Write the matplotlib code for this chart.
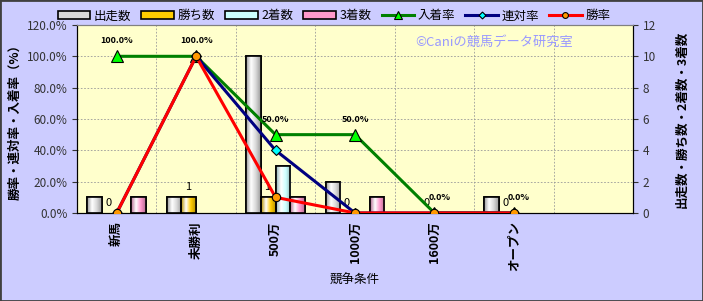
import numpy as np
import matplotlib.pyplot as plt
from matplotlib.colors import LinearSegmentedColormap, to_rgb
from matplotlib.patches import Patch

plt.rcParams['font.family'] = ['Noto Sans CJK JP', 'DejaVu Sans']

# data
categories = ['新馬', '未勝利', '500万', '1000万', '1600万', 'オープン', '']
runs = [1, 1, 10, 2, 0, 1, 0]
wins = [0, 1, 1, 0, 0, 0, 0]
seconds = [0, 0, 3, 0, 0, 0, 0]
thirds = [1, 0, 1, 1, 0, 0, 0]
win_labels = ['0', '1', '1', '0', '0', '0']
place_rate = [100.0, 100.0, 50.0, 50.0, 0.0, 0.0]
rentai_rate = [0.0, 100.0, 40.0, 0.0, 0.0, 0.0]
win_rate = [0.0, 100.0, 10.0, 0.0, 0.0, 0.0]

bar_series = [('出走数', runs, '#d8d8d8'), ('勝ち数', wins, '#ffcc00'),
              ('2着数', seconds, '#ccffff'), ('3着数', thirds, '#ff99cc')]

fig = plt.figure(figsize=(7.03, 3.01), dpi=100, facecolor='#ccccff')
fig.patches.append(plt.Rectangle((0, 0), 1, 1, transform=fig.transFigure,
                                 fill=False, edgecolor='#404040', lw=2))
ax = fig.add_axes([0.1095, 0.2924, 0.7909, 0.6246])
ax.set_facecolor('#ffffcc')
ax2 = ax.twinx()

x = np.arange(len(categories))
w = 0.185
handles = []
for i, (name, vals, col) in enumerate(bar_series):
    offs = (i - 1.5) * w
    vals = np.array(vals)
    pos = vals > 0
    bars = ax.bar((x + offs)[pos], vals[pos], w, color=col, edgecolor='black',
                  lw=1.2, zorder=3)
    handles.append(Patch(facecolor=col, edgecolor='black', lw=1.2, label=name))
    # simple horizontal gradient inside each bar, outline redrawn on top
    c = np.array(to_rgb(col))
    dark = c * 0.72
    cmap = LinearSegmentedColormap.from_list('g', [dark, (1, 1, 1), c, dark])
    grad = np.linspace(0, 1, 32).reshape(1, -1)
    for b in bars:
        im = ax.imshow(grad, cmap=cmap, aspect='auto', zorder=3.5,
                       extent=(b.get_x(), b.get_x() + b.get_width(), 0, b.get_height()))
        im.set_clip_path(b)
    ax.bar((x + offs)[pos], vals[pos], w, fill=False, edgecolor='black', lw=1.2, zorder=4)

# win count labels
for i, lab in enumerate(win_labels):
    ax.text(x[i] - 0.55 * w, wins[i] + 0.35, lab, ha='center', va='bottom',
            fontsize=8, zorder=6)

ax.set_xlim(-0.5, 6.5)
ax.set_ylim(0, 12)
ax.set_yticks(range(0, 13, 2))
ax.yaxis.tick_right()
ax.yaxis.set_label_position('right')
ax.set_ylabel('出走数・勝ち数・2着数・3着数', fontsize=9, fontweight='bold',
              rotation=90, labelpad=14)
ax.set_xticks(x)
ax.set_xticklabels(categories, rotation=90, fontsize=9, fontweight='bold', va='top')
ax.set_xticks(x[:-1] + 0.5, minor=True)
ax.tick_params(axis='x', which='both', length=0, pad=6)
ax.grid(True, which='minor', axis='x', color='#999999', ls=(0, (2, 2)), lw=0.6)
ax.grid(True, which='major', axis='y', color='#999999', ls=(0, (2, 2)), lw=0.6)
ax.set_axisbelow(True)
ax.tick_params(axis='y', labelsize=8.5, colors='#333333')
ax.set_xlabel('競争条件', fontsize=9, labelpad=2)

xl = x[:len(place_rate)]
l1, = ax2.plot(xl, place_rate, color='#008000', lw=2.2, marker='^', ms=8,
               mfc='#00ff00', mec='black', mew=0.8, zorder=5, label='入着率')
l2, = ax2.plot(xl, rentai_rate, color='#000080', lw=2.2, marker='D', ms=5,
               mfc='#00ffff', mec='black', mew=0.8, zorder=5, label='連対率')
l3, = ax2.plot(xl, win_rate, color='#ff0000', lw=2.2, marker='o', ms=6,
               mfc='#ff9900', mec='black', mew=0.8, zorder=6, label='勝率')
for xi, v in zip(xl, place_rate):
    ax2.text(xi + (0.06 if v == 0 else 0), v + 7, f'{v:.1f}%', ha='center',
             va='bottom', fontsize=6.5, fontweight='bold', zorder=7)
ax2.set_ylim(0, 120)
ax2.set_yticks(range(0, 121, 20))
ax2.set_yticklabels([f'{v:.1f}%' for v in range(0, 121, 20)])
ax2.yaxis.tick_left()
ax2.yaxis.set_label_position('left')
ax2.set_ylabel('勝率・連対率・入着率（%）', fontsize=9, fontweight='bold', labelpad=4)
ax2.tick_params(axis='y', labelsize=8.5, colors='#333333')
for a in (ax, ax2):
    for s in a.spines.values():
        s.set_color('#808080')
    a.spines['left'].set_color('black')
    a.spines['right'].set_color('black')
    a.spines['bottom'].set_color('black')

ax2.text(0.75, 0.91, '©Caniの競馬データ研究室', transform=ax.transAxes, ha='center',
         va='center', color='#9999ff', fontsize=9.5, zorder=7)

fig.legend(handles + [l1, l2, l3], [h.get_label() for h in handles] + ['入着率', '連対率', '勝率'],
           loc='center', bbox_to_anchor=(0.475, 0.947), ncol=7, frameon=False,
           fontsize=9, handlelength=2.6, handleheight=0.5, columnspacing=0.8,
           handletextpad=0.3, markerscale=0.7)

fig.savefig('out.png', dpi=100, facecolor=fig.get_facecolor())
